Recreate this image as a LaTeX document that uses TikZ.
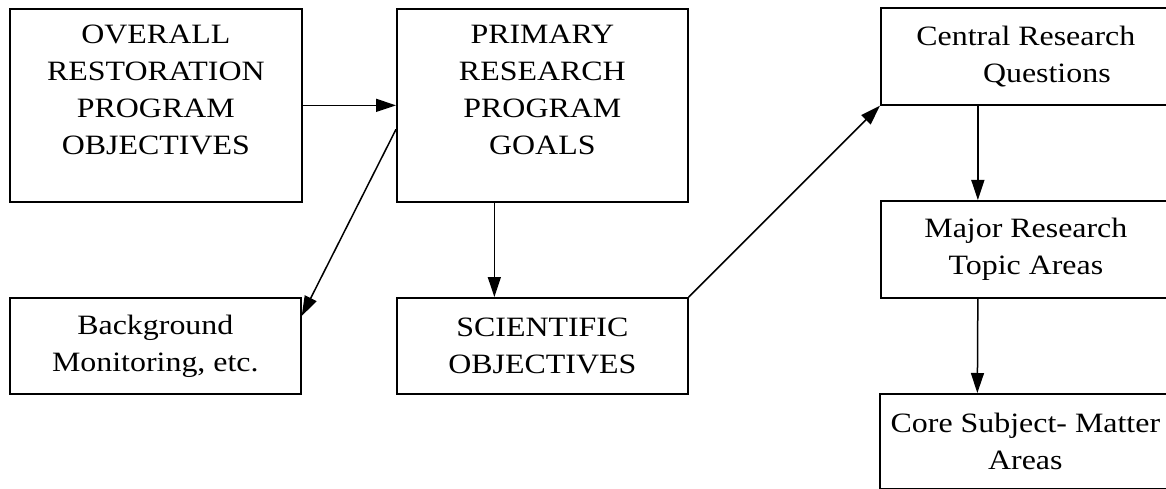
\documentclass[tikz,border=0pt]{standalone}
\usepackage{fontspec}
\setmainfont{Liberation Serif}[FakeStretch=1.14]
\usetikzlibrary{arrows.meta,positioning}
\tikzset{
  box/.style={draw,line width=1.7pt,inner sep=0pt,align=center,anchor=north west},
  lbl/.style={inner sep=0pt,align=center},
  arr/.style={line width=1.5pt,-{Triangle[length=20pt,width=13pt]}}
}
\begin{document}
\begin{tikzpicture}[x=1pt,y=1pt,font=\fontsize{28}{37}\selectfont]
\useasboundingbox (0,0) rectangle (1166,488);
\node[box,minimum width=292pt,minimum height=193pt] (overall) at (9,480) {};
\node[lbl,below=16.5pt of overall.north] (overall-txt) {OVERALL\\RESTORATION\\PROGRAM\\OBJECTIVES};
\node[box,minimum width=291pt,minimum height=193pt] (primary) at (396,480) {};
\node[lbl,below=16.5pt of primary.north] (primary-txt) {PRIMARY\\RESEARCH\\PROGRAM\\GOALS};
\node[box,minimum width=291pt,minimum height=96pt] (background) at (9,191) {Background\\Monitoring, etc.};
\node[box,minimum width=291pt,minimum height=96pt] (scientific) at (396,191) {SCIENTIFIC\\OBJECTIVES};
\node[box,minimum width=290pt,minimum height=97pt] (central) at (880,481) {Central Research\\\hspace*{42pt}Questions};
\node[box,minimum width=290pt,minimum height=97pt] (major) at (880,288) {Major Research\\Topic Areas};
\node[box,minimum width=291pt,minimum height=95pt] (core) at (879,95) {Core Subject- Matter\\Areas};
\draw[arr] (overall) -- (primary);
\draw[arr] ([yshift=-24pt]primary.west) -- ([yshift=-19pt]background.north east);
\draw[arr] ([xshift=-48pt]primary.south) -- ([xshift=-48pt]scientific.north);
\draw[arr] (scientific.north east) -- (central.south west);
\draw[arr] ([xshift=-48pt]central.south) -- ([xshift=-48pt]major.north);
\draw[arr] ([xshift=-48pt]major.south) -- ([xshift=-48pt]core.north);
\end{tikzpicture}
\end{document}
